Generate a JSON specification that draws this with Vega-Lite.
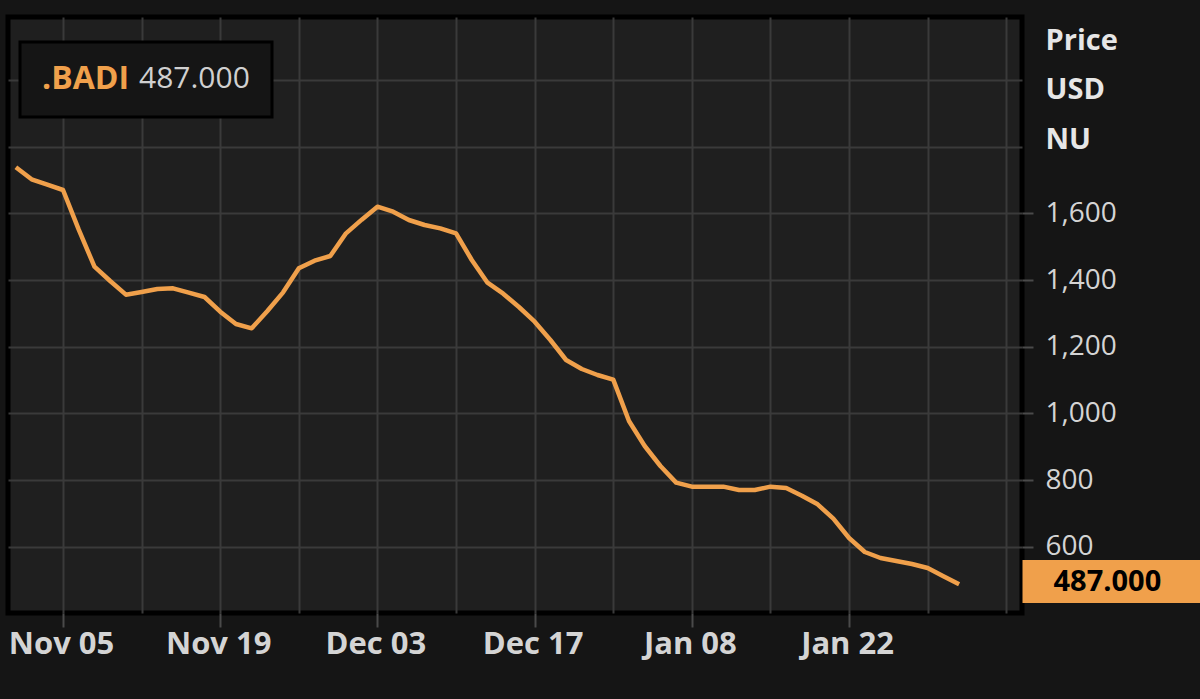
{
  "$schema": "https://vega.github.io/schema/vega-lite/v6.json",
  "width": 1014,
  "height": 596,
  "autosize": {"type": "none"},
  "padding": {"left": 8, "top": 17, "right": 178, "bottom": 86},
  "background": "#151515",
  "config": {
    "view": {"fill": "#1f1f1f", "stroke": "#000000", "strokeWidth": 5},
    "font": "Open Sans",
    "legend": {"strokeWidth": 3}
  },
  "data": {
    "values": [
      {"date": "2019-10-31", "price": 1738, "ticker": ".BADI"},
      {"date": "2019-11-01", "price": 1702, "ticker": ".BADI"},
      {"date": "2019-11-04", "price": 1686, "ticker": ".BADI"},
      {"date": "2019-11-05", "price": 1670, "ticker": ".BADI"},
      {"date": "2019-11-06", "price": 1551, "ticker": ".BADI"},
      {"date": "2019-11-07", "price": 1440, "ticker": ".BADI"},
      {"date": "2019-11-08", "price": 1397, "ticker": ".BADI"},
      {"date": "2019-11-11", "price": 1356, "ticker": ".BADI"},
      {"date": "2019-11-12", "price": 1364, "ticker": ".BADI"},
      {"date": "2019-11-13", "price": 1373, "ticker": ".BADI"},
      {"date": "2019-11-14", "price": 1375, "ticker": ".BADI"},
      {"date": "2019-11-15", "price": 1362, "ticker": ".BADI"},
      {"date": "2019-11-18", "price": 1349, "ticker": ".BADI"},
      {"date": "2019-11-19", "price": 1305, "ticker": ".BADI"},
      {"date": "2019-11-20", "price": 1268, "ticker": ".BADI"},
      {"date": "2019-11-21", "price": 1255, "ticker": ".BADI"},
      {"date": "2019-11-22", "price": 1307, "ticker": ".BADI"},
      {"date": "2019-11-25", "price": 1363, "ticker": ".BADI"},
      {"date": "2019-11-26", "price": 1435, "ticker": ".BADI"},
      {"date": "2019-11-27", "price": 1458, "ticker": ".BADI"},
      {"date": "2019-11-28", "price": 1472, "ticker": ".BADI"},
      {"date": "2019-11-29", "price": 1540, "ticker": ".BADI"},
      {"date": "2019-12-02", "price": 1581, "ticker": ".BADI"},
      {"date": "2019-12-03", "price": 1620, "ticker": ".BADI"},
      {"date": "2019-12-04", "price": 1605, "ticker": ".BADI"},
      {"date": "2019-12-05", "price": 1580, "ticker": ".BADI"},
      {"date": "2019-12-06", "price": 1565, "ticker": ".BADI"},
      {"date": "2019-12-09", "price": 1555, "ticker": ".BADI"},
      {"date": "2019-12-10", "price": 1540, "ticker": ".BADI"},
      {"date": "2019-12-11", "price": 1460, "ticker": ".BADI"},
      {"date": "2019-12-12", "price": 1392, "ticker": ".BADI"},
      {"date": "2019-12-13", "price": 1359, "ticker": ".BADI"},
      {"date": "2019-12-16", "price": 1319, "ticker": ".BADI"},
      {"date": "2019-12-17", "price": 1275, "ticker": ".BADI"},
      {"date": "2019-12-18", "price": 1220, "ticker": ".BADI"},
      {"date": "2019-12-19", "price": 1160, "ticker": ".BADI"},
      {"date": "2019-12-20", "price": 1133, "ticker": ".BADI"},
      {"date": "2019-12-23", "price": 1115, "ticker": ".BADI"},
      {"date": "2019-12-24", "price": 1101, "ticker": ".BADI"},
      {"date": "2020-01-02", "price": 977, "ticker": ".BADI"},
      {"date": "2020-01-03", "price": 902, "ticker": ".BADI"},
      {"date": "2020-01-06", "price": 842, "ticker": ".BADI"},
      {"date": "2020-01-07", "price": 792, "ticker": ".BADI"},
      {"date": "2020-01-08", "price": 780, "ticker": ".BADI"},
      {"date": "2020-01-09", "price": 780, "ticker": ".BADI"},
      {"date": "2020-01-10", "price": 780, "ticker": ".BADI"},
      {"date": "2020-01-13", "price": 770, "ticker": ".BADI"},
      {"date": "2020-01-14", "price": 770, "ticker": ".BADI"},
      {"date": "2020-01-15", "price": 780, "ticker": ".BADI"},
      {"date": "2020-01-16", "price": 776, "ticker": ".BADI"},
      {"date": "2020-01-17", "price": 753, "ticker": ".BADI"},
      {"date": "2020-01-20", "price": 727, "ticker": ".BADI"},
      {"date": "2020-01-21", "price": 684, "ticker": ".BADI"},
      {"date": "2020-01-22", "price": 626, "ticker": ".BADI"},
      {"date": "2020-01-23", "price": 584, "ticker": ".BADI"},
      {"date": "2020-01-24", "price": 566, "ticker": ".BADI"},
      {"date": "2020-01-27", "price": 557, "ticker": ".BADI"},
      {"date": "2020-01-28", "price": 548, "ticker": ".BADI"},
      {"date": "2020-01-29", "price": 536, "ticker": ".BADI"},
      {"date": "2020-01-30", "price": 511, "ticker": ".BADI"},
      {"date": "2020-01-31", "price": 487, "ticker": ".BADI"}
    ]
  },
  "layer": [
    {
      "mark": {"type": "line", "strokeWidth": 4.5, "strokeJoin": "round"},
      "encoding": {
        "x": {
          "field": "date",
          "type": "ordinal",
          "scale": {
            "type": "point",
            "padding": 0.25,
            "align": 1,
            "domain": ["2019-10-31","2019-11-01","2019-11-04","2019-11-05","2019-11-06","2019-11-07","2019-11-08","2019-11-11","2019-11-12","2019-11-13","2019-11-14","2019-11-15","2019-11-18","2019-11-19","2019-11-20","2019-11-21","2019-11-22","2019-11-25","2019-11-26","2019-11-27","2019-11-28","2019-11-29","2019-12-02","2019-12-03","2019-12-04","2019-12-05","2019-12-06","2019-12-09","2019-12-10","2019-12-11","2019-12-12","2019-12-13","2019-12-16","2019-12-17","2019-12-18","2019-12-19","2019-12-20","2019-12-23","2019-12-24","2020-01-02","2020-01-03","2020-01-06","2020-01-07","2020-01-08","2020-01-09","2020-01-10","2020-01-13","2020-01-14","2020-01-15","2020-01-16","2020-01-17","2020-01-20","2020-01-21","2020-01-22","2020-01-23","2020-01-24","2020-01-27","2020-01-28","2020-01-29","2020-01-30","2020-01-31","2020-02-03","2020-02-04","2020-02-05","2020-02-06"]
          },
          "axis": {
            "orient": "bottom",
            "values": ["2019-11-05","2019-11-12","2019-11-19","2019-11-26","2019-12-03","2019-12-10","2019-12-17","2019-12-24","2020-01-08","2020-01-15","2020-01-22","2020-01-29","2020-02-05"],
            "grid": true,
            "gridColor": "#3a3a3a",
            "gridWidth": 2,
            "labels": false,
            "ticks": false,
            "domain": false,
            "title": null
          }
        },
        "y": {
          "field": "price",
          "type": "quantitative",
          "scale": {"domain": [401, 2189], "nice": false, "zero": false},
          "axis": {
            "orient": "right",
            "values": [600, 800, 1000, 1200, 1400, 1600, 1800, 2000],
            "grid": true,
            "gridColor": "#3a3a3a",
            "gridWidth": 2,
            "labels": false,
            "ticks": false,
            "domain": false,
            "title": null
          }
        },
        "color": {
          "field": "ticker",
          "type": "nominal",
          "scale": {"range": ["#f0a04b"]},
          "legend": {
            "title": ".BADI",
            "titleOrient": "left",
            "orient": "none",
            "legendX": 12,
            "legendY": 25,
            "padding": 22,
            "fillColor": "#151515",
            "strokeColor": "#000000",
            "titleFont": "Open Sans",
            "titleFontWeight": "bold",
            "titleFontSize": 32,
            "titleColor": "#f0a04b",
            "titlePadding": -20,
            "titleBaseline": "middle",
            "labelExpr": "'487.000\u00a0\u00a0\u00a0'",
            "labelFont": "Open Sans",
            "labelFontSize": 30,
            "labelColor": "#d0d0d0",
            "labelOffset": 0,
            "symbolSize": 0,
            "symbolStrokeWidth": 0,
            "symbolOpacity": 0
          }
        }
      }
    },
    {
      "mark": {"type": "line", "opacity": 0},
      "encoding": {
        "x": {
          "field": "date",
          "type": "ordinal",
          "axis": {
            "orient": "bottom",
            "values": ["2019-11-05","2019-11-19","2019-12-03","2019-12-17","2020-01-08","2020-01-22"],
            "grid": false,
            "domain": false,
            "ticks": true,
            "tickSize": 14,
            "tickWidth": 2,
            "tickColor": "#4a4a4a",
            "labelExpr": "utcFormat(toDate(datum.value), '%b %d')",
            "labelAngle": 0,
            "labelOverlap": false,
            "labelFont": "Open Sans",
            "labelFontWeight": "bold",
            "labelFontSize": 31,
            "labelColor": "#d4d4d4",
            "labelPadding": 2,
            "labelOffset": -2,
            "title": null
          }
        },
        "y": {
          "field": "price",
          "type": "quantitative",
          "axis": {
            "orient": "right",
            "values": [600, 800, 1000, 1200, 1400, 1600],
            "grid": false,
            "domain": false,
            "ticks": true,
            "tickSize": 11,
            "tickWidth": 2,
            "tickColor": "#4a4a4a",
            "labelPadding": 12,
            "format": ",d",
            "labelFont": "Open Sans",
            "labelFontSize": 28,
            "labelColor": "#d4d4d4",
            "labelAlign": "left",
            "labelBaseline": "middle",
            "labelOverlap": false,
            "title": ["Price", "USD", "NU"],
            "titleAngle": 0,
            "titleAlign": "left",
            "titleBaseline": "alphabetic",
            "titleX": 23,
            "titleY": 32,
            "titleFont": "Open Sans",
            "titleFontWeight": "bold",
            "titleFontSize": 29,
            "titleColor": "#e6e6e6",
            "titleLineHeight": 49.5
          }
        }
      }
    },
    {
      "mark": {"type": "line", "opacity": 0},
      "encoding": {
        "x": {"field": "date", "type": "ordinal", "axis": null},
        "y": {
          "field": "price",
          "type": "quantitative",
          "axis": {
            "orient": "right",
            "values": [487],
            "format": ".3f",
            "grid": false,
            "domain": false,
            "ticks": true,
            "tickSize": 178,
            "tickWidth": 43,
            "tickCap": "butt",
            "tickColor": "#f0a04b",
            "tickOffset": -3,
            "labelPadding": -147,
            "labelFont": "Open Sans",
            "labelFontWeight": "bold",
            "labelFontSize": 29,
            "labelColor": "#000000",
            "labelAlign": "left",
            "labelBaseline": "middle",
            "title": null
          }
        }
      }
    }
  ],
  "resolve": {"axis": {"x": "independent", "y": "independent"}}
}
